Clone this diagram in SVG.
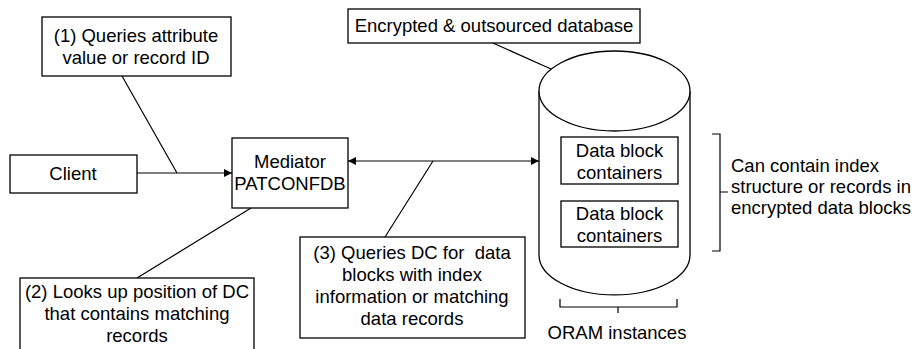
<svg xmlns="http://www.w3.org/2000/svg" width="924" height="349" viewBox="0 0 924 349">
<style>
.box{fill:#fff;stroke:#000;stroke-width:1.3}
.ln{fill:none;stroke:#000;stroke-width:1.2}
.t{font-family:"Liberation Sans",Arial,sans-serif;font-size:18.5px;fill:#000;text-anchor:middle}
.tl{font-family:"Liberation Sans",Arial,sans-serif;font-size:18.5px;fill:#000;text-anchor:start}
.pre{white-space:pre}
</style>
<defs>
<marker id="ah" viewBox="0 0 10 10" refX="10" refY="5" markerWidth="8" markerHeight="8" markerUnits="userSpaceOnUse" orient="auto-start-reverse">
<path d="M0,0 L10,5 L0,10 Z" fill="#000"/>
</marker>
</defs>
<rect width="924" height="349" fill="#fff"/>

<g id="connectors">
<line class="ln" x1="137" y1="173" x2="232" y2="173" marker-end="url(#ah)"/>
<line class="ln" x1="122" y1="76" x2="177" y2="173"/>
<line class="ln" x1="348" y1="161" x2="539" y2="161" marker-start="url(#ah)" marker-end="url(#ah)"/>
<line class="ln" x1="385" y1="237" x2="433" y2="161"/>
<line class="ln" x1="251" y1="208" x2="137" y2="278"/>
<line class="ln" x1="493" y1="43" x2="551" y2="69"/>
</g>

<g id="client">
<rect class="box" x="10" y="155" width="127" height="38"/>
<text class="t" x="73" y="180">Client</text>
</g>

<g id="note1">
<rect class="box" x="42" y="17" width="189" height="59"/>
<text class="t" x="136" y="42">(1) Queries attribute</text>
<text class="t" x="136" y="64">value or record ID</text>
</g>

<g id="mediator">
<rect class="box" x="232" y="138" width="116" height="70"/>
<text class="t" x="290" y="168">Mediator</text>
<text class="t" x="290" y="190">PATCONFDB</text>
</g>

<g id="note2">
<rect class="box" x="20" y="278" width="234" height="80"/>
<text class="t" x="137" y="298">(2) Looks up position of DC</text>
<text class="t" x="137" y="320">that contains matching</text>
<text class="t" x="137" y="342">records</text>
</g>

<g id="note3">
<rect class="box" x="300" y="237" width="225" height="101"/>
<text class="t pre" x="412" y="259" xml:space="preserve">(3) Queries DC for  data</text>
<text class="t" x="412" y="281">blocks with index</text>
<text class="t" x="412" y="303">information or matching</text>
<text class="t" x="412" y="325">data records</text>
</g>

<g id="dblabel">
<rect class="box" x="348" y="9" width="292" height="34"/>
<text class="t" x="494" y="32">Encrypted &amp; outsourced database</text>
</g>

<g id="database">
<path class="box" d="M539,91 L539,255 A75.5,40 0 0 0 690,255 L690,91"/>
<ellipse class="box" cx="614.5" cy="91" rx="75.5" ry="40"/>
<g id="dbc1">
<rect class="box" x="561" y="137" width="117" height="47"/>
<text class="t" x="619.5" y="157">Data block</text>
<text class="t" x="619.5" y="179">containers</text>
</g>
<g id="dbc2">
<rect class="box" x="561" y="201" width="117" height="46"/>
<text class="t" x="619.5" y="220">Data block</text>
<text class="t" x="619.5" y="242">containers</text>
</g>
</g>

<g id="brace-right">
<path class="ln" d="M712,134 L720,134 L720,251 L712,251 M720,192 L728,192"/>
<text class="tl" x="731" y="172">Can contain index</text>
<text class="tl" x="731" y="193">structure or records in</text>
<text class="tl" x="731" y="214">encrypted data blocks</text>
</g>

<g id="brace-bottom">
<path class="ln" d="M560,299 L560,307 L677,307 L677,299 M618,307 L618,313"/>
<text class="t" x="617" y="339">ORAM instances</text>
</g>
</svg>
